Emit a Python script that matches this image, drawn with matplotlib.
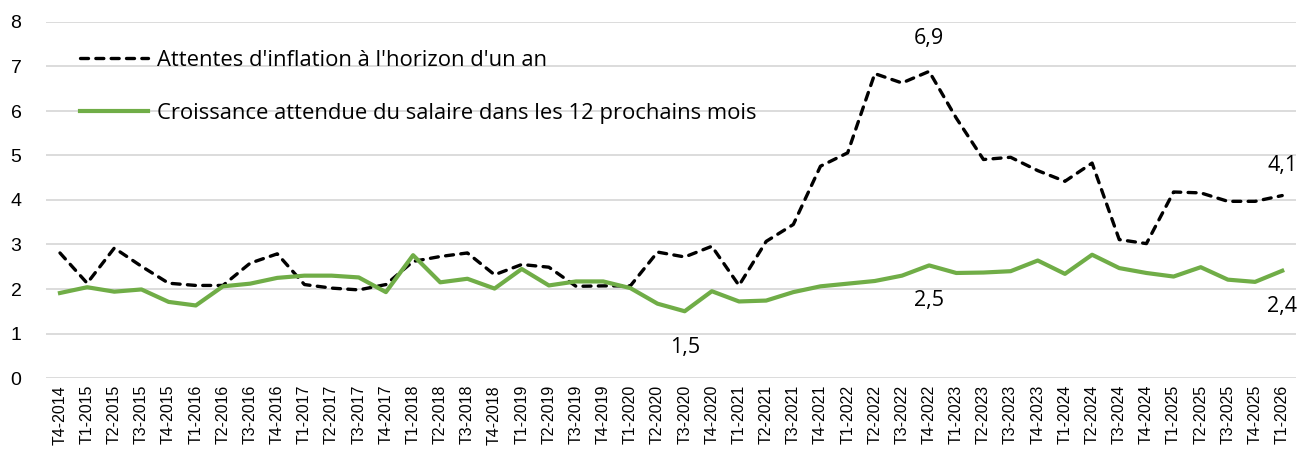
import matplotlib
matplotlib.use("Agg")
import matplotlib.pyplot as plt
from matplotlib.lines import Line2D

categories = ["T4-2014"] + [f"T{q}-{y}" for y in range(2015, 2026) for q in range(1, 5)] + ["T1-2026"]

inflation = [2.81, 2.13, 2.92, 2.51, 2.13, 2.08, 2.08, 2.58, 2.79, 2.10,
             2.02, 1.98, 2.10, 2.62, 2.73, 2.81, 2.32, 2.55, 2.49, 2.06,
             2.07, 2.07, 2.83, 2.72, 2.96, 2.08, 3.07, 3.45, 4.76, 5.06,
             6.84, 6.63, 6.89, 5.84, 4.91, 4.96, 4.66, 4.42, 4.83, 3.11,
             3.02, 4.18, 4.16, 3.97, 3.97, 4.10]

salaire = [1.91, 2.04, 1.94, 1.99, 1.71, 1.63, 2.06, 2.12, 2.25, 2.30,
           2.30, 2.26, 1.93, 2.76, 2.15, 2.23, 2.01, 2.45, 2.08, 2.17,
           2.17, 2.02, 1.67, 1.50, 1.95, 1.72, 1.74, 1.93, 2.06, 2.12,
           2.18, 2.30, 2.53, 2.36, 2.37, 2.40, 2.64, 2.34, 2.77, 2.47,
           2.36, 2.28, 2.49, 2.21, 2.16, 2.41]

label_infl = "Attentes d'inflation à l'horizon d'un an"
label_sal = "Croissance attendue du salaire dans les 12 prochains mois"

# (index, series, text, offset in pixels)
annotations = [
    (32, "infl", "6,9", 33),
    (45, "infl", "4,1", 30),
    (23, "sal", "1,5", -36),
    (32, "sal", "2,5", -35),
    (45, "sal", "2,4", -36),
]

W, H = 1297, 465
fig = plt.figure(figsize=(W / 100, H / 100), dpi=100)
ax = fig.add_axes([46.4 / W, 87 / H, 1249.4 / W, 356 / H])

x = list(range(len(categories)))
green = "#70AD47"
DASH = (2.4, 2.2)
ax.plot(x, inflation, color="black", lw=2.4, dashes=DASH,
        dash_capstyle="round", zorder=3)
ax.plot(x, salaire, color=green, lw=3.0, zorder=3, solid_joinstyle="round")

ax.set_xlim(-0.5, len(categories) - 0.5)
ax.set_ylim(0, 8)
ax.set_yticks(range(0, 9))
ax.yaxis.grid(True, color="#d9d9d9", lw=1.3)
ax.set_axisbelow(True)
for s in ax.spines.values():
    s.set_visible(False)
ax.tick_params(axis="both", length=0)
ax.tick_params(axis="y", pad=18)
ax.set_yticklabels([str(v) for v in range(0, 9)], fontsize=14, family="Liberation Sans")
ax.set_xticks(x)
ax.set_xticklabels(categories, rotation=90, fontsize=11.5, family="Liberation Sans")
ax.tick_params(axis="x", pad=5)

series = {"infl": inflation, "sal": salaire}
for i, key, txt, off in annotations:
    v = series[key][i]
    ax.annotate(txt, (i, v), xytext=(0, off), textcoords="offset pixels",
                ha="center", va="center", fontsize=15.5, family="Open Sans")

handles = [
    Line2D([], [], color="black", lw=2.4, dashes=DASH, dash_capstyle="round"),
    Line2D([], [], color=green, lw=3.0),
]
fig.legend(handles, [label_infl, label_sal], loc="upper left",
           bbox_to_anchor=(80 / W, 1 - 50 / H), frameon=False, borderpad=0,
           borderaxespad=0, handlelength=3.1, handletextpad=0.4, labelspacing=1.45,
           prop={"family": "Open Sans", "size": 15.8})

fig.savefig("out.png", dpi=100)
